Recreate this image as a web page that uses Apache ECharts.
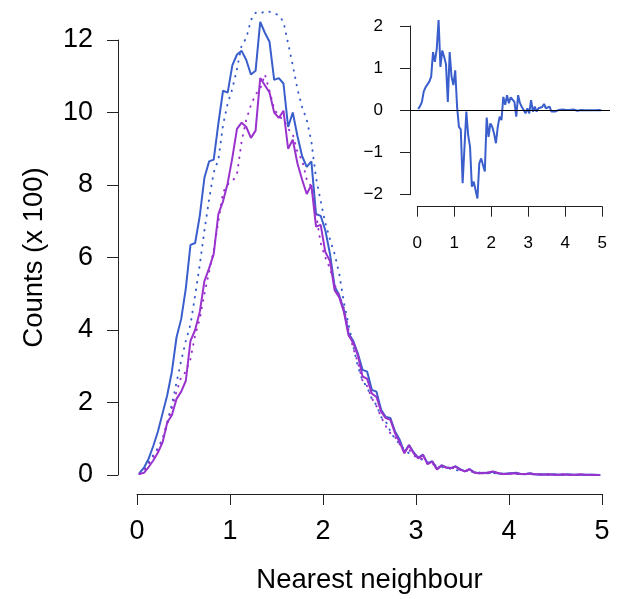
<!DOCTYPE html>
<html>
<head>
<meta charset="utf-8">
<script src="https://cdn.jsdelivr.net/npm/echarts@6/dist/echarts.min.js"></script>
<style>
html, body { margin: 0; padding: 0; background: #fff; }
#main { width: 617px; height: 599px; }
</style>
</head>
<body>
<div id="main"></div>
<script>
// bins of 0.05 along the nearest-neighbour distance, values are counts / 100
var binWidth = 0.05;

var blueObs = [0.05, 0.2, 0.45, 0.8, 1.2, 1.7, 2.2, 2.85, 3.8, 4.3,
  5.15, 6.35, 6.4, 7.15, 8.2, 8.65, 8.7, 9.7, 10.6, 10.55,
  11.3, 11.6, 11.7, 11.45, 11.05, 11.15, 12.5, 12.2, 11.95, 10.9,
  10.95, 10.8, 9.6, 10.0, 9.35, 8.8, 8.5, 8.65, 7.2, 7.15,
  6.75, 6.1, 5.2, 4.95, 4.55, 3.9, 3.7, 3.35, 2.9, 2.85,
  2.35, 2.3, 1.8, 1.6, 1.57, 1.2, 0.97, 0.62, 0.83, 0.62,
  0.48, 0.56, 0.32, 0.38, 0.16, 0.27, 0.21, 0.19, 0.24, 0.16,
  0.1, 0.16, 0.08, 0.05, 0.06, 0.05, 0.09, 0.05, 0.03, 0.04,
  0.05, 0.06, 0.03, 0.02, 0.05, 0.02, 0.01, 0.02, 0.01, 0.02,
  0.01, 0.01, 0.02, 0.01, 0.01, 0.01, 0.0, 0.01, 0.01, 0.0];

var blueExp = [0.03, 0.15, 0.35, 0.55, 0.75, 1.0, 1.45, 1.95, 2.55, 3.15,
  3.7, 4.15, 4.95, 5.8, 6.75, 7.6, 8.35, 8.7, 9.65, 10.25,
  10.65, 11.2, 11.85, 12.05, 12.55, 12.75, 12.72, 12.8, 12.78, 12.74,
  12.68, 12.5, 11.9, 11.3, 10.65, 10.15, 9.8, 9.2, 8.2, 7.55,
  6.95, 6.5, 6.1, 5.55, 4.75, 4.15, 3.55, 3.0, 2.6, 2.42,
  2.1, 1.93, 1.6, 1.48, 1.2, 1.0, 0.85, 0.7, 0.6, 0.55,
  0.45, 0.42, 0.35, 0.3, 0.25, 0.22, 0.2, 0.17, 0.14, 0.12,
  0.11, 0.1, 0.08, 0.07, 0.07, 0.06, 0.05, 0.05, 0.04, 0.04,
  0.04, 0.03, 0.03, 0.03, 0.02, 0.02, 0.02, 0.02, 0.02, 0.01,
  0.01, 0.01, 0.01, 0.01, 0.01, 0.01, 0.0, 0.0, 0.0, 0.0];

var purpleObs = [0.03, 0.06, 0.22, 0.4, 0.62, 0.9, 1.45, 1.65, 2.1, 2.3,
  2.6, 3.7, 4.0, 4.5, 5.35, 5.7, 6.1, 7.2, 7.55, 8.05,
  8.75, 9.55, 9.72, 9.6, 9.3, 9.5, 10.95, 10.75, 10.55, 10.0,
  9.85, 10.05, 9.0, 9.25, 8.6, 8.15, 7.75, 8.0, 6.85, 6.9,
  6.15, 5.9, 5.1, 4.9, 4.5, 3.85, 3.65, 3.3, 2.72, 2.65,
  2.25, 2.15, 1.75, 1.57, 1.52, 1.15, 0.9, 0.6, 0.82, 0.6,
  0.46, 0.55, 0.3, 0.37, 0.15, 0.26, 0.21, 0.19, 0.23, 0.15,
  0.1, 0.16, 0.07, 0.05, 0.05, 0.07, 0.1, 0.06, 0.03, 0.03,
  0.04, 0.05, 0.03, 0.03, 0.04, 0.02, 0.02, 0.01, 0.02, 0.01,
  0.01, 0.02, 0.01, 0.01, 0.01, 0.02, 0.01, 0.01, 0.0, 0.0];

var purpleExp = [0.03, 0.12, 0.3, 0.5, 0.7, 0.95, 1.4, 1.85, 2.3, 2.7,
  2.85, 3.2, 3.85, 4.3, 5.0, 5.6, 6.2, 7.0, 7.8, 8.02,
  8.1, 8.3, 9.2, 9.8, 10.2, 10.5, 10.65, 11.05, 10.6, 10.1,
  9.9, 9.8, 9.55, 9.4, 8.9, 8.7, 8.15, 7.95, 7.2, 6.4,
  6.0, 5.7, 5.25, 4.95, 4.6, 4.0, 3.5, 3.1, 2.6, 2.45,
  2.12, 1.9, 1.6, 1.35, 1.15, 1.05, 0.85, 0.65, 0.7, 0.55,
  0.45, 0.45, 0.3, 0.33, 0.18, 0.25, 0.2, 0.18, 0.2, 0.14,
  0.1, 0.13, 0.07, 0.05, 0.06, 0.06, 0.08, 0.05, 0.03, 0.03,
  0.04, 0.04, 0.03, 0.03, 0.03, 0.02, 0.02, 0.01, 0.02, 0.01,
  0.01, 0.01, 0.01, 0.01, 0.01, 0.01, 0.01, 0.0, 0.0, 0.0];

// inset: observed minus expected (blue)
var blueDiff = [0.03, 0.1, 0.2, 0.45, 0.55, 0.58, 0.68, 0.8, 1.38, 1.15,
  1.45, 2.14, 1.03, 1.42, 1.27, 1.1, 0.2, 1.38, 0.8, 0.6,
  0.95, 0.09, -0.39, -0.45, -1.73, -1.72, -0.03, -0.59, -0.86, -1.81,
  -1.69, -1.67, -2.09, -1.26, -1.14, -1.18, -1.45, -0.17, -0.63, -0.31,
  -0.39, -0.55, -0.78, -0.39, -0.15, -0.23, 0.32, 0.13, 0.36, 0.17,
  0.31, 0.32, 0.2, -0.15, 0.36, 0.17, 0.08, 0.01, -0.07, 0.05,
  -0.07, 0.24, -0.03, 0.09, -0.03, 0.05, 0.02, 0.08, 0.15, 0.05,
  0.09, 0.09, -0.03, -0.07, -0.03, -0.02, 0.01, 0.03, 0.02, -0.01,
  0.01, 0.05, 0.01, 0.0, 0.02, 0.01, -0.01, 0.0, 0.01, -0.01,
  0.0, 0.01, 0.0, -0.01, 0.0, 0.01, 0.0, 0.0, 0.01, 0.0];

var BLUE = '#3A5FCD';
var PURPLE = '#9A32CD';
var FONT = 'Liberation Sans, Arial, Helvetica, sans-serif';
var DOTS = [0.5, 7];

function toPoints(vals) {
  return vals.map(function (v, i) {
    return [binWidth * (i + 0.5), v];
  });
}

// R-like axis: detached line, outward ticks, no grid lines
function rAxis(extra) {
  var base = {
    type: 'value',
    splitLine: { show: false },
    axisLine: { show: true, onZero: false, lineStyle: { color: '#222', width: 1 } },
    axisTick: { show: true, inside: false, lineStyle: { color: '#222', width: 1 } },
    axisLabel: { color: '#000', fontFamily: FONT },
    nameTextStyle: { color: '#000', fontFamily: FONT }
  };
  for (var k in extra) {
    if (typeof extra[k] === 'object' && base[k] && !Array.isArray(extra[k])) {
      base[k] = Object.assign({}, base[k], extra[k]);
    } else {
      base[k] = extra[k];
    }
  }
  return base;
}

var chart = echarts.init(document.getElementById('main'));

var option = {
  animation: false,
  backgroundColor: '#fff',
  grid: [
    { left: 137, right: 15, top: 40, bottom: 122 },
    { left: 417.3, right: 14.7, top: 26, bottom: 404.3 },
    { left: 410, right: 7, top: 26, bottom: 404.3 }
  ],
  xAxis: [
    rAxis({
      gridIndex: 0, min: 0, max: 5, interval: 1, offset: 19,
      axisTick: { length: 11 },
      axisLabel: { fontSize: 27, margin: 24 },
      name: 'Nearest neighbour', nameLocation: 'middle', nameGap: 72,
      nameTextStyle: { fontSize: 27.5 }
    }),
    rAxis({
      gridIndex: 1, min: 0, max: 5, interval: 1, offset: 12,
      axisTick: { length: 10 },
      axisLabel: { fontSize: 17, margin: 28 }
    }),
    { type: 'value', gridIndex: 2, min: -0.2, max: 5.2, show: false }
  ],
  yAxis: [
    rAxis({
      gridIndex: 0, min: 0, max: 12, interval: 2, offset: 19,
      axisTick: { length: 11 },
      axisLabel: { fontSize: 27, margin: 25 },
      name: 'Counts (x 100)', nameLocation: 'middle', nameGap: 70, nameRotate: 90,
      nameTextStyle: { fontSize: 27.5 }
    }),
    rAxis({
      gridIndex: 1, min: -2, max: 2, interval: 1, offset: 7.3,
      axisTick: { length: 10 },
      axisLabel: { fontSize: 17, margin: 27,
        formatter: function (v) { return v < 0 ? '\u2212' + Math.abs(v) : String(v); } }
    }),
    { type: 'value', gridIndex: 2, min: -2, max: 2, show: false }
  ],
  series: [
    {
      type: 'line', xAxisIndex: 0, yAxisIndex: 0, data: toPoints(blueObs),
      showSymbol: false, clip: false,
      lineStyle: { color: BLUE, width: 2 }
    },
    {
      type: 'line', xAxisIndex: 0, yAxisIndex: 0, data: toPoints(blueExp),
      showSymbol: false, clip: false,
      lineStyle: { color: BLUE, width: 2, type: DOTS, cap: 'round' }
    },
    {
      type: 'line', xAxisIndex: 0, yAxisIndex: 0, data: toPoints(purpleObs),
      showSymbol: false, clip: false,
      lineStyle: { color: PURPLE, width: 2 }
    },
    {
      type: 'line', xAxisIndex: 0, yAxisIndex: 0, data: toPoints(purpleExp),
      showSymbol: false, clip: false,
      lineStyle: { color: PURPLE, width: 2, type: DOTS, cap: 'round' }
    },
    {
      // zero reference across the inset plot region
      type: 'line', xAxisIndex: 2, yAxisIndex: 2, data: [],
      markLine: {
        silent: true, symbol: 'none', label: { show: false },
        lineStyle: { color: '#000', width: 1, type: 'solid' },
        data: [{ yAxis: 0 }]
      }
    },
    {
      type: 'line', xAxisIndex: 1, yAxisIndex: 1, data: toPoints(blueDiff),
      showSymbol: false, clip: false,
      lineStyle: { color: BLUE, width: 2 }
    }
  ]
};

chart.setOption(option);
</script>
</body>
</html>
